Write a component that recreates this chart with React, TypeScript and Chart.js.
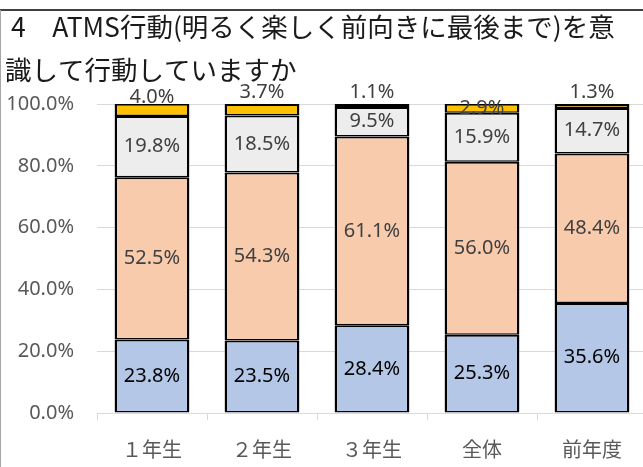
import React, { useEffect, useRef } from "react";
import { Chart, registerables } from "chart.js";

Chart.register(...registerables);

const categories = ["１年生", "２年生", "３年生", "全体", "前年度"];
const blueValues = [23.8, 23.5, 28.4, 25.3, 35.6];
const peachValues = [52.5, 54.3, 61.1, 56.0, 48.4];
const grayValues = [19.8, 18.5, 9.5, 15.9, 14.7];
const yellowValues = [4.0, 3.7, 1.1, 2.9, 1.3];
const titleLines = [
  "4　ATMS行動(明るく楽しく前向きに最後まで)を意",
  "識して行動していますか",
];

// lift (px) of the small top-segment labels above the bar top; null = centred in segment
const topLabelLift: (number | null)[] = [6.5, 11.5, 11.5, null, 11.5];

const CANVAS_W = 660;
const CANVAS_H = 480;

const framePlugin = {
  id: "frameAndTitle",
  beforeDraw(chart: any) {
    const ctx = chart.ctx;
    ctx.save();
    ctx.fillStyle = "#ffffff";
    ctx.fillRect(0, 0, chart.width, chart.height);
    ctx.fillStyle = "#404040";
    ctx.fillRect(0, 9, chart.width, 2);
    ctx.fillStyle = "#a6a6a6";
    ctx.fillRect(0, 10, 1, chart.height);
    ctx.restore();
  },
  afterDraw(chart: any) {
    const ctx = chart.ctx;
    ctx.save();
    ctx.font = '26.5px "Noto Sans CJK JP"';
    ctx.fillStyle = "#1a1a1a";
    ctx.textAlign = "left";
    ctx.textBaseline = "middle";
    ctx.fillText(titleLines[0], 11, 27);
    ctx.fillText(titleLines[1], 5, 70);
    ctx.restore();
  },
};

const labelPlugin = {
  id: "segmentLabels",
  afterDatasetsDraw(chart: any) {
    const ctx = chart.ctx;
    ctx.save();
    ctx.font = '20px "Noto Sans"';
    ctx.textAlign = "center";
    ctx.textBaseline = "middle";
    const last = chart.data.datasets.length - 1;
    chart.data.datasets.forEach((ds: any, di: number) => {
      const meta = chart.getDatasetMeta(di);
      meta.data.forEach((el: any, i: number) => {
        const v = ds.data[i] as number;
        const { x, y, base } = el.getProps(["x", "y", "base"], true);
        let ty = (y + base) / 2;
        if (di === last && topLabelLift[i] != null) {
          ty = Math.max(y, chart.chartArea.top) - (topLabelLift[i] as number);
        }
        ctx.fillStyle = di === 0 ? "#000000" : "#404040";
        ctx.fillText(v.toFixed(1) + "%", x, ty);
      });
    });
    ctx.restore();
  },
};

export default function App() {
  const canvasRef = useRef<HTMLCanvasElement | null>(null);

  useEffect(() => {
    if (!canvasRef.current) return;
    const border = { top: 2, bottom: 1.5, left: 2.5, right: 2.5 };
    const common = {
      borderColor: "#000000",
      borderWidth: border,
      borderSkipped: false as const,
      barPercentage: 0.68,
      categoryPercentage: 1.0,
    };
    const chart = new Chart(canvasRef.current, {
      type: "bar",
      data: {
        labels: categories,
        datasets: [
          { label: "blue", data: blueValues, backgroundColor: "#b4c7e7", ...common },
          { label: "peach", data: peachValues, backgroundColor: "#f8cbad", ...common },
          { label: "gray", data: grayValues, backgroundColor: "#ededed", ...common },
          { label: "yellow", data: yellowValues, backgroundColor: "#ffc000", ...common },
        ],
      },
      options: {
        animation: false,
        responsive: false,
        maintainAspectRatio: false,
        devicePixelRatio: 1,
        layout: { padding: { left: 0, right: 13, top: 104, bottom: 0 } },
        plugins: {
          legend: { display: false },
          tooltip: { enabled: false },
          title: { display: false },
        },
        scales: {
          x: {
            stacked: true,
            offset: true,
            grid: {
              display: true,
              drawOnChartArea: false,
              drawTicks: true,
              tickLength: 7,
              color: "#d9d9d9",
              offset: true,
            },
            border: { display: true, color: "#d9d9d9", width: 1 },
            ticks: {
              color: "#595959",
              padding: 17,
              font: { family: '"Noto Sans CJK JP"', size: 20 },
              maxRotation: 0,
            },
            afterFit(scale: any) {
              scale.height = CANVAS_H - 413;
            },
          },
          y: {
            stacked: true,
            min: 0,
            max: 100,
            grid: {
              display: true,
              drawTicks: false,
              color: "#d9d9d9",
              lineWidth: 1,
            },
            border: { display: false },
            ticks: {
              stepSize: 20,
              color: "#595959",
              padding: 23,
              font: { family: '"Noto Sans"', size: 20 },
              callback: (v: any) => Number(v).toFixed(1) + "%",
            },
            afterFit(scale: any) {
              scale.width = 97;
            },
          },
        },
      },
      plugins: [framePlugin, labelPlugin],
    });
    return () => chart.destroy();
  }, []);

  return (
    <div
      style={{
        position: "fixed",
        left: 0,
        top: 0,
        width: 643,
        height: 467,
        overflow: "hidden",
        background: "#fff",
      }}
    >
      <canvas
        ref={canvasRef}
        width={CANVAS_W}
        height={CANVAS_H}
        style={{ width: CANVAS_W, height: CANVAS_H, display: "block" }}
      />
    </div>
  );
}
